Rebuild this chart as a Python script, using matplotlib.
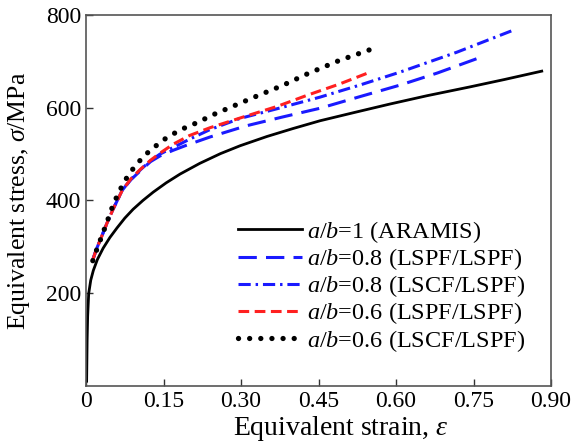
import matplotlib
matplotlib.use("Agg")
import matplotlib.pyplot as plt

plt.rcParams['font.family'] = ['Liberation Serif', 'DejaVu Serif']
plt.rcParams['mathtext.fontset'] = 'custom'
plt.rcParams['mathtext.rm'] = 'Liberation Serif'
plt.rcParams['mathtext.it'] = 'Liberation Serif:italic'

# equivalent strain / equivalent stress (MPa) for each case
strain_aramis = [0.001, 0.002, 0.003, 0.005, 0.009, 0.014, 0.022, 0.033, 0.046, 0.06, 0.075, 0.091,
                 0.11, 0.13, 0.155, 0.182, 0.22, 0.26, 0.298, 0.35, 0.40, 0.453, 0.52, 0.588,
                 0.66, 0.743, 0.81, 0.882]
stress_aramis = [10, 100, 150, 199, 228, 249, 273, 297, 320, 341, 362, 381,
                 400, 418, 438, 457, 480, 501, 518, 538, 555, 572, 590, 608,
                 626, 645, 661, 679]

strain_08_lspf = [0.013, 0.02, 0.03, 0.04, 0.053, 0.07, 0.087, 0.105, 0.125, 0.143, 0.168, 0.194,
                  0.24, 0.31, 0.38, 0.453, 0.53, 0.608, 0.68, 0.759]
stress_08_lspf = [272, 295, 322, 350, 383, 422, 445, 464, 484, 496, 508, 519,
                  537, 561, 580, 599, 624, 649, 675, 707]

strain_08_lscf = [0.013, 0.02, 0.03, 0.04, 0.053, 0.07, 0.087, 0.105, 0.125, 0.143, 0.168, 0.2,
                  0.24, 0.298, 0.37, 0.453, 0.53, 0.608, 0.718, 0.826]
stress_08_lscf = [272, 295, 322, 350, 383, 422, 446, 466, 486, 500, 514, 532,
                  553, 577, 598, 623, 649, 677, 720, 767]

strain_06_lspf = [0.013, 0.02, 0.03, 0.04, 0.053, 0.07, 0.087, 0.105, 0.125, 0.143, 0.168, 0.2,
                  0.24, 0.304, 0.37, 0.428, 0.49, 0.55]
stress_06_lspf = [272, 295, 322, 350, 383, 422, 447, 467, 487, 502, 521, 540,
                  557, 580, 603, 627, 651, 677]

strain_06_lscf = [0.013, 0.02, 0.027, 0.04, 0.053, 0.072, 0.085, 0.1, 0.115, 0.132, 0.149, 0.164,
                  0.19, 0.213, 0.25, 0.29, 0.33, 0.38, 0.428, 0.49, 0.559]
stress_06_lscf = [270, 292, 313, 352, 393, 437, 460, 481, 499, 515, 530, 541,
                  556, 567, 587, 606, 625, 648, 673, 702, 729]

labels = ['$a/b$=1 (ARAMIS)', '$a/b$=0.8 (LSPF/LSPF)', '$a/b$=0.8 (LSCF/LSPF)',
          '$a/b$=0.6 (LSPF/LSPF)', '$a/b$=0.6 (LSCF/LSPF)']
xticks = [0, 0.15, 0.30, 0.45, 0.60, 0.75, 0.90]
xticklabels = ['0', '0.15', '0.30', '0.45', '0.60', '0.75', '0.90']
yticks = [200, 400, 600, 800]

fig = plt.figure(figsize=(5.74, 4.43), dpi=100)
ax = fig.add_axes([0.150, 0.129, 0.810, 0.837])

ax.plot(strain_aramis, stress_aramis, color='black', lw=2, label=labels[0])
ax.plot(strain_08_lspf, stress_08_lspf, color='#1a1aff', lw=2.2, dashes=(6, 3), label=labels[1])
ax.plot(strain_08_lscf, stress_08_lscf, color='#1a1aff', lw=2.2, dashes=(4, 1.6, 0.8, 1.6), label=labels[2])
ax.plot(strain_06_lspf, stress_06_lspf, color='#ff2020', lw=2.2, dashes=(3.5, 1.8), label=labels[3])
ax.plot(strain_06_lscf, stress_06_lscf, color='black', lw=3.8, dashes=(0.01, 2.1),
        dash_capstyle='round', label=labels[4])

ax.set_xlim(0, 0.9)
ax.set_ylim(0, 800)
ax.set_xticks(xticks)
ax.set_xticklabels(xticklabels)
ax.set_yticks(yticks)
ax.tick_params(direction='in', length=5, width=1, labelsize=17, colors='#333333', labelcolor='black')
for s in ax.spines.values():
    s.set_color('#555555')
    s.set_linewidth(1.2)

ax.set_xlabel('Equivalent strain, $\\varepsilon$', fontsize=20)
ax.set_ylabel('Equivalent stress, $\\sigma$/MPa', fontsize=18.5)
ax.xaxis.set_label_coords((341 - 86) / 465, -0.075)
ax.yaxis.set_label_coords(-0.116, 0.5)

ax.legend(loc='upper left', bbox_to_anchor=(238 / 574, 1 - 219 / 443), bbox_transform=fig.transFigure,
          frameon=False, fontsize=17.5, handlelength=2.63, handletextpad=0.2,
          labelspacing=0.05, borderpad=0, borderaxespad=0)

fig.savefig('out.png', dpi=100)
